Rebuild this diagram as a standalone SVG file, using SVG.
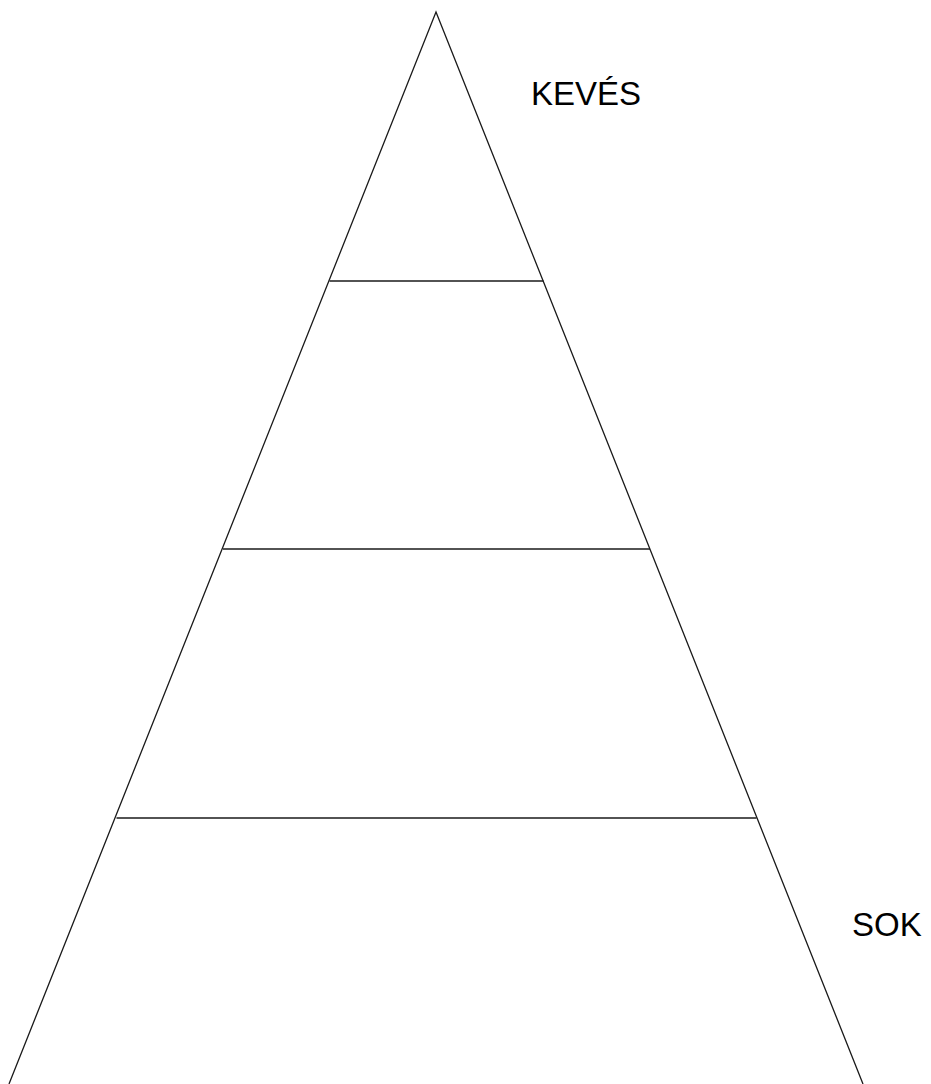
<svg xmlns="http://www.w3.org/2000/svg" width="931" height="1084" viewBox="0 0 931 1084">
<style>
.ln{stroke:#1a1a1a;stroke-width:1.3;fill:none}
.lb{font-family:"Liberation Sans",Arial,sans-serif;font-size:33px;fill:#000}
</style>
<rect width="931" height="1084" fill="#fff"/>
<g id="pyramid">
<path class="ln" d="M9,1084 L436,12 L863,1084"/>
</g>
<g id="levels">
<line class="ln" x1="329.5" y1="281" x2="543.5" y2="281"/>
<line class="ln" x1="223" y1="549" x2="650" y2="549"/>
<line class="ln" x1="116.5" y1="818" x2="756.5" y2="818"/>
</g>
<g id="labels">
<text class="lb" x="531" y="105">KEVÉS</text>
<text class="lb" x="852" y="936">SOK</text>
</g>
</svg>
